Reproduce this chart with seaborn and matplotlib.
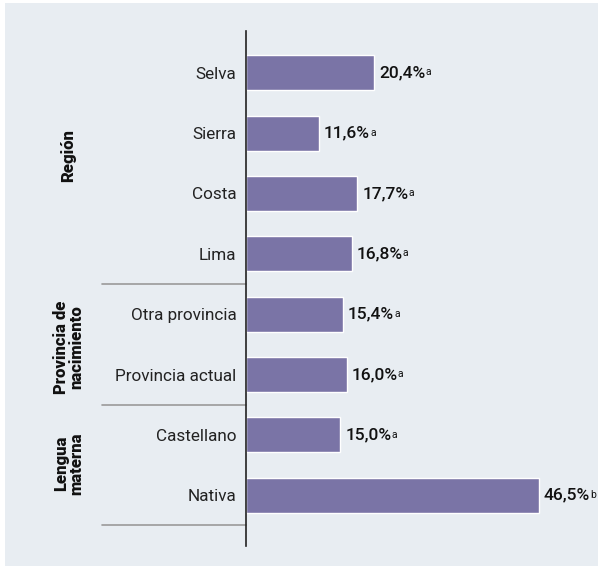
import pandas as pd
import seaborn as sns
import matplotlib.pyplot as plt
from matplotlib.patches import Rectangle

categories = ['Selva', 'Sierra', 'Costa', 'Lima',
              'Otra provincia', 'Provincia actual',
              'Castellano', 'Nativa']
values = [20.4, 11.6, 17.7, 16.8, 15.4, 16.0, 15.0, 46.5]
sig_letters = ['a', 'a', 'a', 'a', 'a', 'a', 'a', 'b']
groups = ['Región', 'Provincia de\nnacimiento', 'Lengua\nmaterna']
group_sizes = [4, 2, 2]

bg = '#e8edf2'
bar_color = '#7a74a6'

sns.set_style("white")
plt.rcParams['font.family'] = ['Roboto', 'DejaVu Sans']

df = pd.DataFrame({'Category': categories, 'Value': values})

fig = plt.figure(figsize=(5.99, 5.66), dpi=100)
fig.patch.set_facecolor('white')
fig.patches.append(Rectangle((5 / 599, 0), 593 / 599, 1 - 3 / 566,
                             transform=fig.transFigure, facecolor=bg,
                             edgecolor='none', zorder=-10))

ax = fig.add_axes([246 / 599, 1 - 546 / 566, 346 / 599, 515 / 566])
ax.set_facecolor('none')
sns.barplot(data=df, y='Category', x='Value', color=bar_color,
            saturation=1, width=0.58, ax=ax)

ax.set_xlim(0, 55)
ax.set_ylim(7.84, -0.69)
for side in ['top', 'right', 'bottom']:
    ax.spines[side].set_visible(False)
ax.spines['left'].set_color('#222222')
ax.spines['left'].set_linewidth(1.2)
ax.set_xticks([])
ax.set_xlabel('')
ax.set_ylabel('')
ax.tick_params(axis='y', length=0, pad=7, labelsize=12.3, labelcolor='#222222')

for i, (v, s) in enumerate(zip(values, sig_letters)):
    lbl = f"{v:.1f}".replace('.', ',') + '%'
    t = ax.text(v + 0.8, i, lbl, va='center', ha='left', fontsize=12.5,
                fontweight='medium', color='#111111')
    # small superscript letter right after the value
    ax.annotate(s, xy=(1, 0.86), xycoords=t, xytext=(0, 0),
                textcoords='offset points', va='top', ha='left',
                fontsize=7.5, color='#111111')

# group separators and labels
label_shift = [-0.12, 0.05, -0.03]
start = 0
for g, n, dy in zip(groups, group_sizes, label_shift):
    end = start + n
    sep_y = end - 0.5
    ax.plot([-22.9, 0], [sep_y, sep_y], color='#9a9a9a', lw=1.2,
            clip_on=False)
    mid = (start + end - 1) / 2 + dy
    ax.text(-28.2, mid, g, rotation=90, ha='center', va='center',
            fontsize=12, fontweight='heavy', color='#111111',
            linespacing=0.95, multialignment='center')
    start = end

plt.savefig('out.png', dpi=100)
